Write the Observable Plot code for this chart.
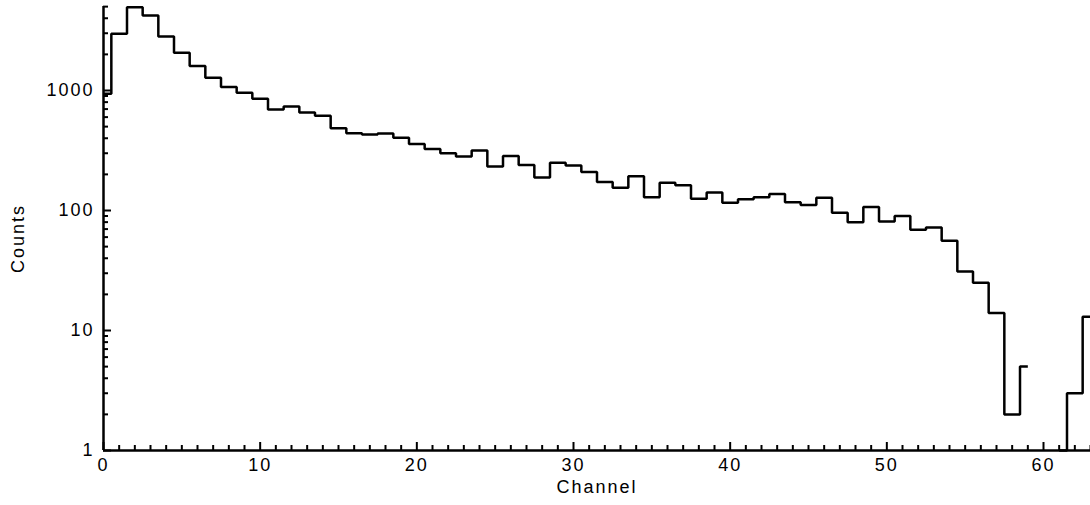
<!DOCTYPE html>
<html>
<head>
<meta charset="utf-8">
<script src="https://cdn.jsdelivr.net/npm/d3@7"></script>
<script src="https://cdn.jsdelivr.net/npm/@observablehq/plot@0.6"></script>
<style>
  html, body { margin: 0; padding: 0; background: #fff; }
  #chart { width: 1090px; height: 505px; overflow: hidden; }
  #chart svg text { letter-spacing: 2px; }
</style>
</head>
<body>
<div id="chart"></div>
<script>
const channels = [0,1,2,3,4,5,6,7,8,9,10,11,12,13,14,15,16,17,18,19,20,21,22,23,24,25,26,27,28,29,30,31,32,33,34,35,36,37,38,39,40,41,42,43,44,45,46,47,48,49,50,51,52,53,54,55,56,57,58,59,60,61,62,63];
const counts = [940,2970,4950,4220,2820,2060,1600,1280,1070,956,853,695,735,656,615,485,440,430,438,403,359,326,300,282,316,233,284,240,188,250,237,209,173,155,193,129,170,162,125,141,116,124,129,137,117,111,128,96,80,107,81,90,69,72,56,31,25,14,2,5,null,1,3,13];
const xMajorTicks = [0,10,20,30,40,50,60];
const xMinorTicks = [1,2,3,4,5,6,7,8,9,11,12,13,14,15,16,17,18,19,21,22,23,24,25,26,27,28,29,31,32,33,34,35,36,37,38,39,41,42,43,44,45,46,47,48,49,51,52,53,54,55,56,57,58,59,61,62,63];
const yMajorTicks = [1,10,100,1000];
const yMinorTicks = [2,3,4,5,6,7,8,9,20,30,40,50,60,70,80,90,200,300,400,500,600,700,800,900,2000,3000,4000,5000];
const xLabel = "Channel";
const yLabel = "Counts";

const data = channels.map((c, i) => ({channel: c, count: counts[i]}));

const W = 1090, H = 505, mT = 6, mB = 55, mL = 103, mR = 0;
const plotH = H - mT - mB, plotW = W - mL - mR;
const font = "'Liberation Sans', Arial, Helvetica, sans-serif";

const chart = Plot.plot({
  width: W, height: H,
  marginTop: mT, marginBottom: mB, marginLeft: mL, marginRight: mR,
  style: {fontFamily: font, fontSize: "18px", color: "black", background: "white", overflow: "visible"},
  x: {domain: [0, 63], axis: null},
  y: {type: "log", domain: [1, 5012], axis: null},
  marks: [
    Plot.line(data, {x: "channel", y: "count", curve: "step", stroke: "black", strokeWidth: 2.5, strokeLinejoin: "miter", strokeLinecap: "butt"}),
    // ticks (inward)
    Plot.tickX(xMinorTicks, {x: d => d, insetTop: plotH - 5, stroke: "black", strokeWidth: 2}),
    Plot.tickX(xMajorTicks, {x: d => d, insetTop: plotH - 8, stroke: "black", strokeWidth: 2}),
    Plot.tickY(yMinorTicks, {y: d => d, insetRight: plotW - 5, stroke: "black", strokeWidth: 2}),
    Plot.tickY(yMajorTicks, {y: d => d, insetRight: plotW - 8, stroke: "black", strokeWidth: 2}),
    // axis lines
    Plot.ruleY([1], {stroke: "black", strokeWidth: 2.5}),
    Plot.ruleX([0], {stroke: "black", strokeWidth: 2.5}),
    // tick labels
    Plot.axisX(xMajorTicks, {tickSize: 0, tickPadding: 8, label: null, fontSize: 18, tickFormat: d => String(d)}),
    Plot.axisY(yMajorTicks, {tickSize: 0, tickPadding: 9, label: null, fontSize: 18, tickFormat: d => String(d)}),
    // axis titles
    Plot.text([xLabel], {text: d => d, frameAnchor: "bottom", dy: 42, fontSize: 18}),
    Plot.text([yLabel], {text: d => d, frameAnchor: "left", textAnchor: "middle", lineAnchor: "middle", dx: -85, dy: 10, rotate: -90, fontSize: 18})
  ]
});
document.getElementById("chart").appendChild(chart);
</script>
</body>
</html>
